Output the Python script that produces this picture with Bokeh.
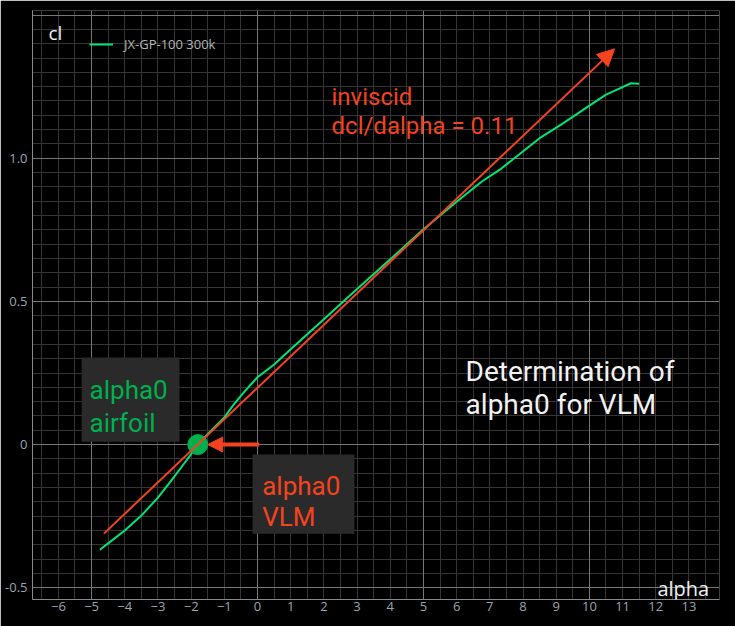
from bokeh.plotting import figure
from bokeh.models import (Range1d, SingleIntervalTicker, FixedTicker, Grid, Label,
                          BoxAnnotation, Arrow, NormalHead)
from bokeh.embed import file_html
from bokeh.resources import INLINE

# ---------------- data ----------------
airfoil_alpha = [-4.75, -4.5, -4.0, -3.5, -3.0, -2.6, -2.3, -2.0, -1.8, -1.5, -1.0, -0.7,
                 -0.45, -0.2, 0.0, 0.5, 1.0, 2.0, 3.0, 4.0, 5.0, 6.0, 6.75, 7.3, 7.9,
                 8.5, 9.1, 9.7, 10.0, 10.5, 10.9, 11.25, 11.5]
airfoil_cl = [-0.367, -0.345, -0.300, -0.248, -0.185, -0.126, -0.080, -0.033, 0.0, 0.037,
              0.095, 0.142, 0.177, 0.210, 0.235, 0.280, 0.333, 0.438, 0.543, 0.647,
              0.752, 0.848, 0.918, 0.960, 1.015, 1.070, 1.114, 1.160, 1.184, 1.222,
              1.243, 1.262, 1.260]
series_name = "JX-GP-100 300k"

inviscid_alpha = [-4.63, 10.76]
inviscid_cl = [-0.311, 1.382]

alpha0_alpha = [-1.8]
alpha0_cl = [0.0]

pointer_alpha = [0.05, -1.5]
pointer_cl = [0.0, 0.0]

x_tick_interval = 1
y_ticks = [-0.5, 0.0, 0.5, 1.0]
y_tick_labels = ["-0.5", "0", "0.5", "1.0"]

GREEN_LINE = "#00e676"
GREEN_DARK = "#00b04f"
RED = "#f4431f"
BOX = "#2a2a2a"

p = figure(width=735, height=626, output_backend="svg", toolbar_location=None,
           x_range=Range1d(-6.78, 13.92), y_range=Range1d(-0.541, 1.516),
           min_border_left=32, min_border_right=16, min_border_top=10, min_border_bottom=27)
p.background_fill_color = "black"
p.border_fill_color = "black"
p.outline_line_color = None
p.xgrid.visible = False
p.ygrid.visible = False

# grids
p.add_layout(Grid(dimension=0, ticker=SingleIntervalTicker(interval=0.5),
                  grid_line_color="#353535", grid_line_width=1))
p.add_layout(Grid(dimension=1, ticker=SingleIntervalTicker(interval=0.05),
                  grid_line_color="#353535", grid_line_width=1))
p.add_layout(Grid(dimension=0, ticker=SingleIntervalTicker(interval=5),
                  grid_line_color="#777777", grid_line_width=1))
p.add_layout(Grid(dimension=1, ticker=SingleIntervalTicker(interval=0.5),
                  grid_line_color="#777777", grid_line_width=1))

# axes
for ax in (p.xaxis[0], p.yaxis[0]):
    ax.axis_line_color = "#8a8a8a"
    ax.major_tick_line_color = None
    ax.minor_tick_line_color = None
    ax.major_tick_out = 0
    ax.major_label_text_color = "#9aa6b2"
    ax.major_label_text_font = "Open Sans"
    ax.major_label_text_font_size = "13px"
p.xaxis[0].ticker = SingleIntervalTicker(interval=x_tick_interval, num_minor_ticks=0)
p.xaxis[0].major_label_standoff = 2
p.yaxis[0].ticker = FixedTicker(ticks=y_ticks)
p.yaxis[0].major_label_overrides = {t: l for t, l in zip(y_ticks, y_tick_labels)}
p.yaxis[0].major_label_standoff = 5

# label boxes
p.add_layout(BoxAnnotation(left=-5.30, right=-2.35, bottom=0.010, top=0.304,
                           fill_color=BOX, fill_alpha=1, line_color=None))
p.add_layout(BoxAnnotation(left=-0.15, right=2.92, bottom=-0.311, top=-0.035,
                           fill_color=BOX, fill_alpha=1, line_color=None))

# lines
p.line(airfoil_alpha, airfoil_cl, line_color=GREEN_LINE, line_width=2, legend_label=series_name)
p.add_layout(Arrow(x_start=inviscid_alpha[0], y_start=inviscid_cl[0],
                   x_end=inviscid_alpha[1], y_end=inviscid_cl[1],
                   line_color=RED, line_width=2,
                   end=NormalHead(size=17, fill_color=RED, line_color=RED)))
p.add_layout(Arrow(x_start=pointer_alpha[0], y_start=pointer_cl[0],
                   x_end=pointer_alpha[1], y_end=pointer_cl[1],
                   line_color=RED, line_width=4,
                   end=NormalHead(size=15, fill_color=RED, line_color=RED)))
p.scatter(alpha0_alpha, alpha0_cl, size=20, fill_color=GREEN_DARK, line_color=GREEN_DARK)

# legend
lg = p.legend[0]
lg.location = (57, 546)
lg.padding = 0
lg.margin = 0
lg.spacing = 0
lg.glyph_width = 24
lg.glyph_height = 16
lg.label_height = 16
lg.label_standoff = 11
lg.background_fill_alpha = 0
lg.border_line_alpha = 0
lg.label_text_color = "#b4b4b4"
lg.label_text_font = "Open Sans"
lg.label_text_font_size = "13px"

# axis titles
p.add_layout(Label(x=-6.30, y=1.436, text="cl", text_color="#f0f0f0", text_font="Open Sans",
                   text_font_size="19px", text_baseline="alphabetic"))
p.add_layout(Label(x=12.05, y=-0.503, text="alpha", text_color="#f0f0f0", text_font="Open Sans",
                   text_font_size="20px", text_baseline="alphabetic"))

def txt(x, y, s, color, size):
    p.add_layout(Label(x=x, y=y, text=s, text_color=color, text_font="Roboto",
                       text_font_size=size, text_baseline="alphabetic"))

txt(-5.06, 0.192, "alpha0", GREEN_DARK, "26px")
txt(-5.06, 0.077, "airfoil", GREEN_DARK, "26px")
txt(0.14, -0.146, "alpha0", RED, "26px")
txt(0.14, -0.254, "VLM", RED, "26px")
txt(2.23, 1.213, "inviscid", RED, "24px")
txt(2.23, 1.114, "dcl/dalpha = 0.11", RED, "24px")
txt(6.27, 0.256, "Determination of", "#f2f2f2", "28px")
txt(6.27, 0.140, "alpha0 for VLM", "#f2f2f2", "28px")

open("out.html", "w").write(file_html(p, INLINE))
